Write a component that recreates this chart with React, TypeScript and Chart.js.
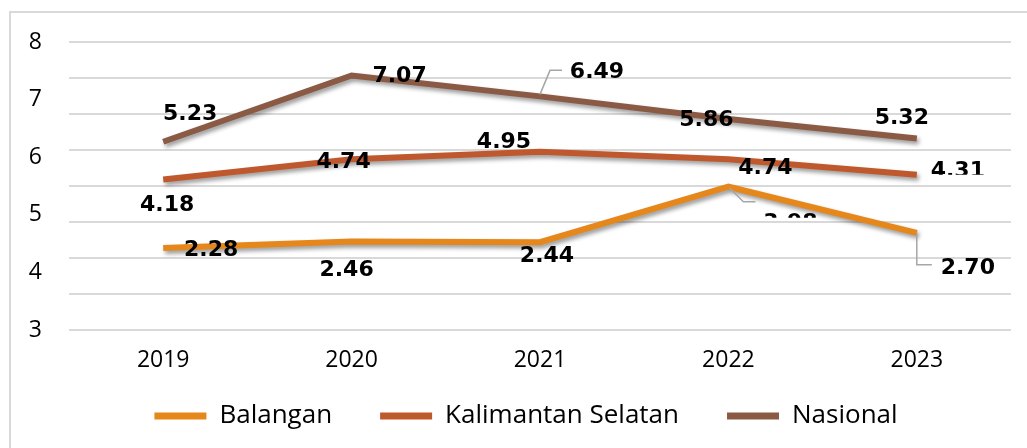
import React, { useEffect, useRef } from "react";
import { Chart, registerables } from "chart.js";

Chart.register(...registerables);

// ---- data ----
const years = ["2019", "2020", "2021", "2022", "2023"];
const seriesNames = ["Balangan", "Kalimantan Selatan", "Nasional"];
const balangan = [2.28, 2.46, 2.44, 3.98, 2.7];
const kalimantanSelatan = [4.18, 4.74, 4.95, 4.74, 4.31];
const nasional = [5.23, 7.07, 6.49, 5.86, 5.32];
// axis shown in the original: tick labels 3..8 spread over the plot, gridlines every 1 on a 0..8 scale
const yTickLabels = ["3", "4", "5", "6", "7", "8"];

// ---- styling / label placement (pixels, relative to each point) ----
const colors = ["#E5871B", "#C0582D", "#8B5A45"];
const labelOffsets = [
  [[48, 2], [-5, 29], [7, 14], [62, 37], [51, 35]],
  [[4, 26], [-8, 3], [-36, -10], [37, 9], [41, -4]],
  [[27, -27], [48, 1], [57, -24], [-22, 1], [-15, -20]],
];
// labels whose lower part is hidden in the original (cut at label centre + value)
const clippedLabels = [
  { ds: 0, i: 3, cut: -6 },
  { ds: 1, i: 4, cut: 4 },
];
const leaderLines = [
  { ds: 2, i: 2, path: [[0, -2], [10, -26], [22, -26]] },
  { ds: 0, i: 3, path: [[1, 1], [15, 15], [27, 15]] },
  { ds: 0, i: 4, path: [[0, 0], [0, 32], [15, 32]] },
];

const framePlugin = {
  id: "frame",
  beforeDraw(chart: any) {
    const ctx = chart.ctx;
    ctx.save();
    ctx.strokeStyle = "#d9d9d9";
    ctx.lineWidth = 2;
    ctx.beginPath();
    ctx.moveTo(10, chart.height);
    ctx.lineTo(10, 12);
    ctx.lineTo(chart.width, 12);
    ctx.stroke();
    ctx.restore();
  },
};

const shadowPlugin = {
  id: "lineShadow",
  beforeDatasetDraw(chart: any) {
    const ctx = chart.ctx;
    ctx.save();
    ctx.shadowColor = "rgba(0,0,0,0.4)";
    ctx.shadowBlur = 4;
    ctx.shadowOffsetX = 2;
    ctx.shadowOffsetY = 3;
  },
  afterDatasetDraw(chart: any) {
    chart.ctx.restore();
  },
};

const labelPlugin = {
  id: "pointLabels",
  afterDatasetsDraw(chart: any) {
    const ctx = chart.ctx;
    ctx.save();
    ctx.strokeStyle = "#a6a6a6";
    ctx.lineWidth = 1.5;
    leaderLines.forEach((l) => {
      const pt = chart.getDatasetMeta(l.ds).data[l.i];
      ctx.beginPath();
      l.path.forEach(([dx, dy], k) => {
        if (k === 0) ctx.moveTo(pt.x + dx, pt.y + dy);
        else ctx.lineTo(pt.x + dx, pt.y + dy);
      });
      ctx.stroke();
    });
    ctx.restore();

    chart.data.datasets.forEach((ds: any, di: number) => {
      const meta = chart.getDatasetMeta(di);
      meta.data.forEach((pt: any, i: number) => {
        const [dx, dy] = labelOffsets[di][i];
        const x = pt.x + dx;
        const y = pt.y + dy;
        ctx.save();
        const c = clippedLabels.find((q) => q.ds === di && q.i === i);
        if (c) {
          ctx.beginPath();
          ctx.rect(0, 0, chart.width, y + c.cut);
          ctx.clip();
        }
        ctx.font = 'bold 22px "DejaVu Sans"';
        ctx.fillStyle = "#000";
        ctx.textAlign = "center";
        ctx.textBaseline = "middle";
        ctx.fillText(Number(ds.data[i]).toFixed(2), x, y);
        ctx.restore();
      });
    });
  },
};

export default function App() {
  const ref = useRef<HTMLCanvasElement | null>(null);

  useEffect(() => {
    if (!ref.current) return;
    const seriesData = [balangan, kalimantanSelatan, nasional];
    const chart = new Chart(ref.current, {
      type: "line",
      data: {
        labels: years,
        datasets: seriesNames.map((name, k) => ({
          label: name,
          data: seriesData[k],
          borderColor: colors[k],
          backgroundColor: colors[k],
          borderWidth: 6,
          pointRadius: 0,
          pointHoverRadius: 0,
          tension: 0,
          fill: false,
          borderCapStyle: "butt" as const,
          borderJoinStyle: "miter" as const,
        })),
      },
      options: {
        animation: false,
        responsive: true,
        maintainAspectRatio: false,
        events: [],
        layout: { padding: { left: 0, right: -25, top: 42, bottom: 9 } },
        scales: {
          x: {
            type: "category",
            offset: true,
            grid: { display: false, drawTicks: false },
            border: { display: false },
            ticks: {
              mirror: true,
              padding: -44,
              color: "#000",
              font: { family: '"Open Sans"', size: 23 },
              maxRotation: 0,
            },
            afterFit: (s: any) => {
              s.height = 25;
            },
          },
          y: {
            position: "right",
            min: 0,
            max: 8,
            ticks: { stepSize: 1, display: false },
            grid: { color: "#d9d9d9", lineWidth: 2, drawTicks: false },
            border: { display: false },
            afterFit: (s: any) => {
              s.width = 41;
            },
          },
          y2: {
            position: "left",
            min: 3,
            max: 8,
            grid: { display: false, drawTicks: false },
            border: { display: false },
            ticks: {
              stepSize: 1,
              padding: 27,
              color: "#000",
              font: { family: '"Open Sans"', size: 23 },
              callback: (_v: any, i: number) => yTickLabels[i],
            },
            afterFit: (s: any) => {
              s.width = 69;
            },
          },
        },
        plugins: {
          tooltip: { enabled: false },
          legend: {
            position: "bottom",
            labels: {
              boxWidth: 52,
              boxHeight: 7,
              padding: 48,
              color: "#000",
              font: { family: '"Open Sans"', size: 26 },
              generateLabels: (ch: any) =>
                Chart.defaults.plugins.legend.labels
                  .generateLabels(ch)
                  .map((l: any) => ({ ...l, lineWidth: 0, fillStyle: l.strokeStyle })),
            },
          },
        },
      },
      plugins: [framePlugin, shadowPlugin, labelPlugin],
    });
    return () => chart.destroy();
  }, []);

  return (
    <div style={{ position: "fixed", left: 0, top: 0, width: 1027, height: 448, background: "#fff" }}>
      <canvas ref={ref} />
    </div>
  );
}
